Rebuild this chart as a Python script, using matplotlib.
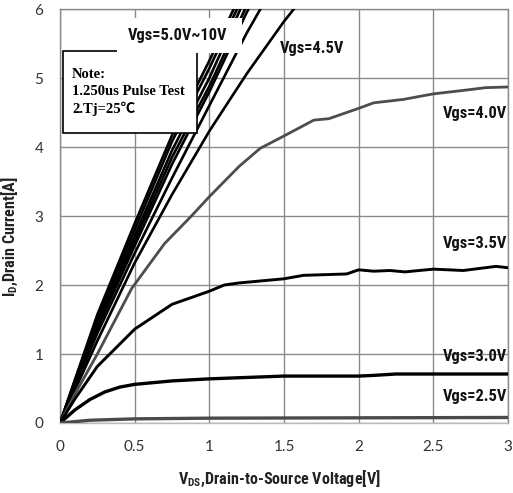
import matplotlib
matplotlib.use("Agg")
import matplotlib.pyplot as plt
from matplotlib.patches import Rectangle
from matplotlib import font_manager

names = {f.name for f in font_manager.fontManager.ttflist}
narrow = None
for cand in ['Liberation Sans Narrow', 'Roboto Condensed', 'Open Sans Condensed', 'DejaVu Sans Condensed']:
    if cand in names:
        narrow = cand
        break
if narrow is None:
    narrow = 'Liberation Sans'
    lab_size = 10.0
    axlab_font = 'Lato'
    axlab_size = 10.5
else:
    lab_size = 11.8
    axlab_font = narrow
    axlab_size = 11.6

plt.rcParams['mathtext.fontset'] = 'custom'
plt.rcParams['mathtext.rm'] = axlab_font + ':bold'
plt.rcParams['mathtext.it'] = axlab_font + ':bold'
plt.rcParams['mathtext.bf'] = axlab_font + ':bold'

# ---- data ----
v_steep = [0, 0.25, 0.5, 0.75, 1.0, 1.25, 1.5, 1.75]
id_10v = [0, 1.57, 2.89, 4.17, 5.25, 6.4, 7.4, 8.3]
id_9v = [0, 1.53, 2.80, 4.08, 5.14, 6.3, 7.3, 8.2]
id_8v = [0, 1.47, 2.71, 3.95, 5.00, 6.2, 7.2, 8.1]
id_7v = [0, 1.42, 2.64, 3.85, 4.88, 6.05, 7.0, 7.9]
id_6v = [0, 1.37, 2.57, 3.75, 4.80, 5.95, 6.9, 7.8]
id_5v = [0, 1.30, 2.46, 3.55, 4.60, 5.65, 6.6, 7.5]
id_45v = [0, 1.19, 2.32, 3.31, 4.23, 5.06, 5.82, 6.5]

v_40 = [0, 0.1, 0.25, 0.48, 0.7, 0.88, 1.0, 1.2, 1.34, 1.5, 1.7, 1.8, 2.0, 2.1, 2.3, 2.5, 2.7, 2.85, 3.0]
id_40 = [0, 0.42, 1.0, 1.95, 2.6, 3.0, 3.28, 3.72, 3.98, 4.16, 4.39, 4.41, 4.56, 4.64, 4.69, 4.77, 4.82, 4.86, 4.87]

v_35 = [0, 0.1, 0.25, 0.5, 0.75, 1.0, 1.1, 1.2, 1.5, 1.63, 1.92, 2.0, 2.1, 2.21, 2.31, 2.5, 2.7, 2.92, 3.0]
id_35 = [0, 0.35, 0.82, 1.36, 1.72, 1.91, 2.0, 2.03, 2.09, 2.14, 2.16, 2.22, 2.2, 2.21, 2.19, 2.23, 2.21, 2.27, 2.25]

v_30 = [0, 0.1, 0.2, 0.3, 0.4, 0.5, 0.75, 1.0, 1.25, 1.5, 2.0, 2.1, 2.25, 2.5, 3.0]
id_30 = [0, 0.19, 0.34, 0.45, 0.52, 0.56, 0.61, 0.64, 0.66, 0.68, 0.68, 0.69, 0.71, 0.71, 0.71]

v_25 = [0, 0.2, 0.5, 1.0, 3.0]
id_25 = [0, 0.04, 0.06, 0.07, 0.08]

x_ticks = [0, 0.5, 1, 1.5, 2, 2.5, 3]
x_ticklabels = ['0', '0.5', '1', '1.5', '2', '2.5', '3']
y_ticks = [0, 1, 2, 3, 4, 5, 6]

labels = [
    ('Vgs=5.0V~10V', 0.79, 5.61, 'center'),
    ('Vgs=4.5V', 1.686, 5.43, 'center'),
    ('Vgs=4.0V', 2.995, 4.48, 'right'),
    ('Vgs=3.5V', 2.995, 2.60, 'right'),
    ('Vgs=3.0V', 2.995, 0.97, 'right'),
    ('Vgs=2.5V', 2.995, 0.38, 'right'),
]

fig = plt.figure(figsize=(5.13, 4.93), dpi=100)
ax = fig.add_axes([60/513, 1-423/493, 448/513, 414/493])

black_lw = 1.9
for ys in [id_10v, id_9v, id_8v, id_7v, id_6v, id_5v]:
    ax.plot(v_steep, ys, color='black', lw=black_lw, zorder=3)
ax.plot(v_steep, id_45v, color='black', lw=black_lw, zorder=3)
ax.plot(v_40, id_40, color='#4d4d4d', lw=2.0, zorder=3)
ax.plot(v_35, id_35, color='black', lw=2.1, zorder=3)
ax.plot(v_30, id_30, color='black', lw=2.4, zorder=3)
ax.plot(v_25, id_25, color='#4a4a4a', lw=2.4, zorder=3)

ax.set_xlim(0, 3)
ax.set_ylim(0, 6)
ax.set_xticks(x_ticks)
ax.set_xticklabels(x_ticklabels)
ax.set_yticks(y_ticks)
ax.tick_params(length=0, labelsize=11, labelcolor='#333333', pad=12)
for lab in ax.get_xticklabels() + ax.get_yticklabels():
    lab.set_fontfamily('Lato')
ax.grid(True, color='#8a8a8a', lw=1.0)
ax.set_axisbelow(True)
for s in ['left', 'right', 'top']:
    ax.spines[s].set_color('#8a8a8a')
ax.spines['bottom'].set_color('#a9bdd6')
for s in ax.spines.values():
    s.set_linewidth(1.0)

ax.set_xlabel(r'V$_{\rm DS}$,Drain-to-Source Voltage[V]', fontfamily=axlab_font,
              fontweight='bold', fontsize=axlab_size, color='#222222')
ax.set_ylabel(r'I$_{\rm D}$,Drain Current[A]', fontfamily=axlab_font,
              fontweight='bold', fontsize=axlab_size, color='#222222')
ax.xaxis.set_label_coords(0.49, -0.11)
ax.yaxis.set_label_coords(-0.089, 0.45)

# note box
ax.add_patch(Rectangle((0.02, 4.2), 0.90, 1.19, facecolor='white',
                       edgecolor='black', lw=1.2, zorder=5, clip_on=False))
ax.text(0.08, 5.14, 'Note:\n1.250us Pulse Test\n2.Tj=25\u2103',
        family=['Liberation Serif', 'Noto Sans CJK SC', 'DejaVu Serif'],
        fontweight='bold', fontsize=10.5, va='top', ha='left',
        linespacing=1.35, zorder=6)

# white background behind the top label
ax.add_patch(Rectangle((0.38, 5.36), 0.84, 0.51, facecolor='white',
                       edgecolor='none', zorder=7))

for txt, x, y, ha in labels:
    ax.text(x, y, txt, ha=ha, va='center', family=narrow,
            fontweight='bold', fontsize=lab_size, zorder=8, color='#111111')

fig.savefig('out.png', dpi=100)
